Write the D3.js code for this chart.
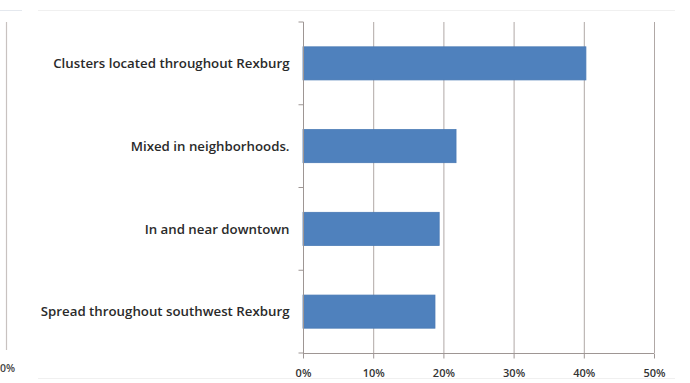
<!DOCTYPE html>
<html><head><meta charset="utf-8">
<script src="https://cdn.jsdelivr.net/npm/d3@7"></script>
<style>body{margin:0;background:#fff}svg{display:block}</style>
</head><body>
<svg id="c" width="690" height="383"></svg>
<script>
const categories = ["Clusters located throughout Rexburg","Mixed in neighborhoods.","In and near downtown","Spread throughout southwest Rexburg"];
const values = [0.403, 0.218, 0.194, 0.188];
const ticks = [0, 0.1, 0.2, 0.3, 0.4, 0.5];

const svg = d3.select("#c");
const m = {l:303, r:690-654, t:22, b:383-353};
const W = 690, H = 383;
const FONT = "Open Sans, sans-serif";
const x = d3.scaleLinear().domain([0,0.5]).range([m.l, W-m.r]);
const y = d3.scaleBand().domain(categories).range([m.t, H-m.b]).paddingInner(0.6).paddingOuter(0.3);
const yb = d3.scaleBand().domain(categories).range([m.t, H-m.b]);

// frame decorations
svg.append("line").attr("x1",0).attr("x2",22).attr("y1",10.5).attr("y2",10.5).attr("stroke","#e4e8ee");
svg.append("line").attr("x1",38).attr("x2",675).attr("y1",10.5).attr("y2",10.5).attr("stroke","#f0f0f0");
svg.append("line").attr("x1",38).attr("x2",675).attr("y1",378.5).attr("y2",378.5).attr("stroke","#f0f0f0");
svg.append("line").attr("x1",6.5).attr("x2",6.5).attr("y1",22).attr("y2",350).attr("stroke","#c8c2c0").attr("stroke-width",1.2);
svg.append("text").attr("x",0).attr("y",372).attr("font-family",FONT).attr("font-size",10.5).attr("font-weight",600).attr("fill","#444").text("0%");

// gridlines
svg.append("g").selectAll("line").data(ticks.slice(1)).join("line")
  .attr("x1",d=>x(d)+0.5).attr("x2",d=>x(d)+0.5).attr("y1",m.t).attr("y2",H-m.b)
  .attr("stroke","#b0a8a6").attr("stroke-width",1);

// bars
svg.append("g").selectAll("rect").data(values).join("rect")
  .attr("x",x(0)).attr("y",(d,i)=>y(categories[i]))
  .attr("width",d=>x(d)-x(0)).attr("height",y.bandwidth())
  .attr("fill","#4f81bd").attr("stroke","#4a7ab5").attr("stroke-width",0.8);

// y axis
const ya = svg.append("g").attr("transform",`translate(${m.l+0.5},0)`);
ya.append("line").attr("y1",m.t).attr("y2",H-m.b).attr("stroke","#9e9694");
ya.selectAll("line.t").data(d3.range(categories.length+1)).join("line").attr("class","t")
  .attr("x1",-5).attr("x2",0).attr("y1",d=>m.t+d*yb.bandwidth()).attr("y2",d=>m.t+d*yb.bandwidth()).attr("stroke","#9e9694");
const labels = ya.selectAll("text").data(categories).join("text")
  .attr("x",-14).attr("y",d=>y(d)+y.bandwidth()/2).attr("dy","0.35em")
  .attr("text-anchor","end").attr("font-family",FONT).attr("font-size",12).attr("font-weight",600).attr("fill","#2a2a2a")
  .text(d=>d);
// fit longest label to reference width (~249px)
const longest = d3.max(labels.nodes(), n=>n.getComputedTextLength());
if (longest > 0) labels.attr("font-size", 12*249/longest);

// x axis
const xa = svg.append("g").attr("transform",`translate(0,${H-m.b+0.5})`);
xa.append("line").attr("x1",m.l).attr("x2",W-m.r).attr("stroke","#9e9694");
xa.selectAll("line.t").data(ticks).join("line").attr("class","t")
  .attr("x1",d=>x(d)+0.5).attr("x2",d=>x(d)+0.5).attr("y1",0).attr("y2",5).attr("stroke","#9e9694");
xa.selectAll("text").data(ticks).join("text")
  .attr("x",d=>x(d)+0.5).attr("y",23)
  .attr("text-anchor","middle").attr("font-family",FONT).attr("font-size",11).attr("font-weight",600).attr("fill","#333")
  .text(d=>d3.format(".0%")(d));
</script>
</body></html>
